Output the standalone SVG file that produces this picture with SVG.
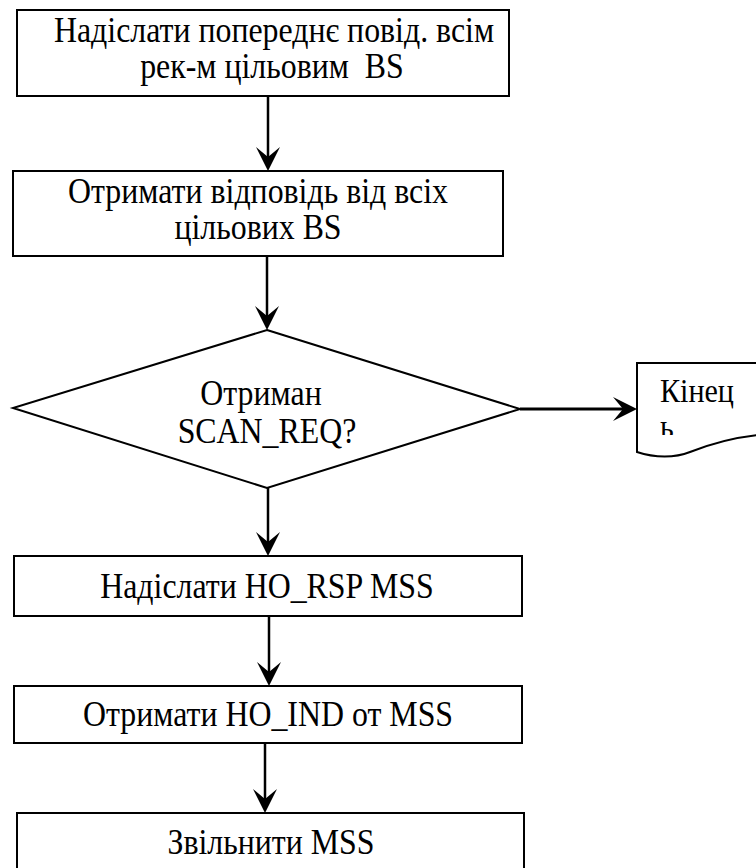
<svg xmlns="http://www.w3.org/2000/svg" width="756" height="868" viewBox="0 0 756 868">
<style>
.box{fill:#fff;stroke:#000;stroke-width:2}
.t{font-family:'Liberation Serif','Times New Roman',serif;font-size:36px;fill:#000;text-anchor:middle;white-space:pre}
.tl{font-family:'Liberation Serif','Times New Roman',serif;font-size:34px;fill:#000}
.c{stroke:#000;stroke-width:2.5;fill:none}
</style>
<defs>
<marker id="ah" markerUnits="userSpaceOnUse" viewBox="-14 -14 28 28" refX="0" refY="0" markerWidth="28" markerHeight="28" orient="auto" overflow="visible">
<path d="M12,0 L-12,-12 L-2,0 L-12,12 Z" fill="#000"/>
</marker>
<clipPath id="endclip"><rect x="637" y="363" width="130" height="72"/></clipPath>
</defs>
<rect width="756" height="868" fill="#fff"/>
<g id="connectors">
<line class="c" x1="268" y1="96" x2="268" y2="159" marker-end="url(#ah)"/>
<line class="c" x1="267" y1="256" x2="267" y2="318" marker-end="url(#ah)"/>
<line class="c" x1="520" y1="409" x2="625" y2="409" style="stroke-width:3" marker-end="url(#ah)"/>
<line class="c" x1="268" y1="488" x2="268" y2="544" marker-end="url(#ah)"/>
<line class="c" x1="269" y1="616" x2="269" y2="674" marker-end="url(#ah)"/>
<line class="c" x1="265" y1="743" x2="265" y2="801" marker-end="url(#ah)"/>
</g>
<g id="n1">
<rect class="box" x="17" y="10" width="492" height="86"/>
<text class="t" transform="translate(274,42) scale(0.885,1)">Надіслати попереднє повід. всім</text>
<text class="t" transform="translate(272,78) scale(0.885,1)">рек-м цільовим  BS</text>
</g>
<g id="n2">
<rect class="box" x="13" y="171" width="490" height="85"/>
<text class="t" transform="translate(258,203) scale(0.885,1)">Отримати відповідь від всіх</text>
<text class="t" transform="translate(258,239) scale(0.885,1)">цільових BS</text>
</g>
<g id="n3">
<polygon class="box" points="267,330 520,409 267,488 13,408"/>
<text class="t" transform="translate(261,405) scale(0.885,1)">Отриман</text>
<text class="t" transform="translate(267,443) scale(0.885,1)">SCAN_REQ?</text>
</g>
<g id="n_end">
<path class="box" d="M637,363 L770,363 L770,434 C735,436 705,446 690,452 C675,458 655,458 637,452 Z"/>
<g clip-path="url(#endclip)">
<text class="tl" transform="translate(660,402) scale(0.885,1)">Кінец</text>
<text class="tl" transform="translate(660,438) scale(0.885,1)">ь</text>
</g>
</g>
<g id="n4">
<rect class="box" x="14" y="556" width="508" height="60"/>
<text class="t" transform="translate(267,598) scale(0.885,1)">Надіслати HO_RSP MSS</text>
</g>
<g id="n5">
<rect class="box" x="14" y="686" width="508" height="57"/>
<text class="t" transform="translate(268,726) scale(0.885,1)">Отримати HO_IND от MSS</text>
</g>
<g id="n6">
<rect class="box" x="17" y="813" width="507" height="80"/>
<text class="t" transform="translate(271,854) scale(0.885,1)">Звільнити MSS</text>
</g>
</svg>
